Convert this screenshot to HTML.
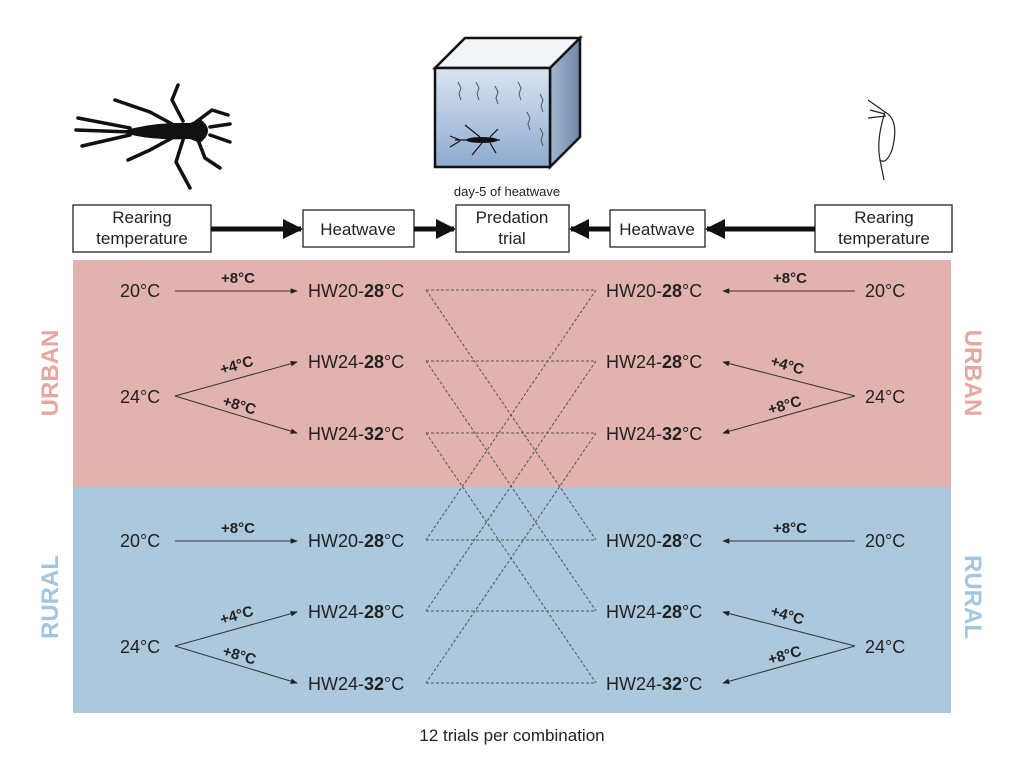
<!DOCTYPE html>
<html><head><meta charset="utf-8"><style>
html,body{margin:0;padding:0;background:#fff;}
svg{display:block;font-family:"Liberation Sans","DejaVu Sans",sans-serif;}
</style></head><body>
<svg width="1024" height="762" viewBox="0 0 1024 762" xmlns="http://www.w3.org/2000/svg">
<defs>
<marker id="a" viewBox="0 0 10 10" refX="9" refY="5" markerWidth="7" markerHeight="7" orient="auto"><path d="M0,1 L10,5 L0,9 z" fill="#222"/></marker>
<marker id="b" viewBox="0 0 10 10" refX="9" refY="5" markerWidth="4" markerHeight="4" orient="auto"><path d="M0,0 L10,5 L0,10 z" fill="#111"/></marker>
<linearGradient id="w" x1="0" y1="0" x2="0" y2="1"><stop offset="0" stop-color="#d8e4f0"/><stop offset="1" stop-color="#8eaad0"/></linearGradient>
<linearGradient id="s" x1="0" y1="0" x2="1" y2="0"><stop offset="0" stop-color="#a6b8d0"/><stop offset="1" stop-color="#6f86a8"/></linearGradient>
</defs>
<rect x="73" y="260" width="878" height="227" fill="#e2b3ae"/>
<rect x="73" y="487" width="878" height="226" fill="#abc8dc"/>

<!-- cube -->
<polygon points="435,68 465,38 580,38 550,68" fill="#f2f4f8" stroke="#111" stroke-width="2.5"/>
<polygon points="550,68 580,38 580,137 550,167" fill="url(#s)" stroke="#111" stroke-width="2.5"/>
<rect x="435" y="68" width="115" height="99" fill="url(#w)" stroke="#111" stroke-width="2.5"/>
<g stroke="#555" stroke-width="1" fill="none">
<path d="M458,82 l3,6 -2,6 2,6"/><path d="M476,82 l3,6 -2,6 2,6"/><path d="M495,86 l3,6 -2,6 2,6"/><path d="M518,82 l3,6 -2,6 2,6"/><path d="M540,94 l3,6 -2,6 2,6"/><path d="M527,112 l3,6 -2,6 2,6"/><path d="M540,128 l3,6 -2,6 2,6"/>
</g>
<g stroke="#111" stroke-width="1.2" fill="none"><path d="M455,140 L500,140"/><path d="M480,137 l-15,-12 M482,143 l-10,12 M490,137 l8,-8 M490,143 l6,10 M460,140 l-10,-4 M460,141 l-10,6"/></g>
<ellipse cx="482" cy="140" rx="16" ry="3" fill="#111"/>
<text x="507" y="196" font-size="13" text-anchor="middle" fill="#222">day-5 of heatwave</text>

<!-- left insect -->
<g stroke="#111" stroke-width="3.5" fill="none" stroke-linecap="round" stroke-linejoin="round">
<path d="M76,130 L130,132 M78,118 L130,128 M82,146 L130,135"/>
<path d="M172,124 L150,112 L115,100 M183,121 L172,100 L178,85 M196,122 L212,110 L228,115"/>
<path d="M172,138 L150,150 L128,160 M183,140 L176,162 L190,188 M198,140 L205,158 L220,168"/>
<path d="M210,127 L230,124 M210,135 L230,142"/>
</g>
<path d="M120,132 Q150,122 190,123 L200,119 Q216,130 200,143 L190,139 Q150,141 120,132 z" fill="#111"/>

<!-- right daphnia -->
<g stroke="#222" stroke-width="1.2" fill="none">
<path d="M868,100 L885,112 M870,110 L885,114 M868,118 L886,116"/>
<path d="M885,112 Q900,120 892,150 Q886,165 880,160 Q876,140 885,112 z"/>
<path d="M880,160 L884,180"/>
</g>

<!-- top boxes -->
<g fill="#fff" stroke="#222" stroke-width="1.3">
<rect x="73" y="205" width="138" height="47"/>
<rect x="303" y="210" width="111" height="37"/>
<rect x="456" y="205" width="113" height="47"/>
<rect x="610" y="210" width="95" height="37"/>
<rect x="815" y="205" width="137" height="47"/>
</g>
<g stroke="#111" stroke-width="5">
<line x1="211" y1="229" x2="301" y2="229" marker-end="url(#b)"/>
<line x1="414" y1="229" x2="454" y2="229" marker-end="url(#b)"/>
<line x1="610" y1="229" x2="571" y2="229" marker-end="url(#b)"/>
<line x1="815" y1="229" x2="707" y2="229" marker-end="url(#b)"/>
</g>
<g font-size="17" text-anchor="middle" fill="#222">
<text x="142" y="223">Rearing</text><text x="142" y="244">temperature</text>
<text x="358" y="235">Heatwave</text>
<text x="512" y="223">Predation</text><text x="512" y="244">trial</text>
<text x="657" y="235">Heatwave</text>
<text x="884" y="223">Rearing</text><text x="884" y="244">temperature</text>
</g>

<!-- side labels -->
<g font-size="24" font-weight="bold" text-anchor="middle">
<text transform="translate(58,373) rotate(-90)" fill="#e6a7a2">URBAN</text>
<text transform="translate(965,373) rotate(90)" fill="#e6a7a2">URBAN</text>
<text transform="translate(58,597) rotate(-90)" fill="#a3c5e0">RURAL</text>
<text transform="translate(965,597) rotate(90)" fill="#a3c5e0">RURAL</text>
</g>

<!-- dashed -->
<g stroke="#555" stroke-width="1" stroke-dasharray="3,2" fill="none">
<line x1="426" y1="290" x2="596" y2="290"/><line x1="426" y1="361" x2="596" y2="361"/><line x1="426" y1="433" x2="596" y2="433"/>
<line x1="426" y1="540" x2="596" y2="540"/><line x1="426" y1="611" x2="596" y2="611"/><line x1="426" y1="683" x2="596" y2="683"/>
<line x1="426" y1="290" x2="596" y2="540"/><line x1="426" y1="361" x2="596" y2="611"/><line x1="426" y1="433" x2="596" y2="683"/>
<line x1="596" y1="290" x2="426" y2="540"/><line x1="596" y1="361" x2="426" y2="611"/><line x1="596" y1="433" x2="426" y2="683"/>
</g>

<!-- arrows -->
<g stroke="#333" stroke-width="1">
<line x1="175" y1="291" x2="297" y2="291" marker-end="url(#a)"/>
<line x1="175" y1="396" x2="297" y2="362" marker-end="url(#a)"/>
<line x1="175" y1="396" x2="297" y2="433" marker-end="url(#a)"/>
<line x1="175" y1="541" x2="297" y2="541" marker-end="url(#a)"/>
<line x1="175" y1="646" x2="297" y2="612" marker-end="url(#a)"/>
<line x1="175" y1="646" x2="297" y2="683" marker-end="url(#a)"/>
<line x1="855" y1="291" x2="723" y2="291" marker-end="url(#a)"/>
<line x1="855" y1="396" x2="723" y2="362" marker-end="url(#a)"/>
<line x1="855" y1="396" x2="723" y2="433" marker-end="url(#a)"/>
<line x1="855" y1="541" x2="723" y2="541" marker-end="url(#a)"/>
<line x1="855" y1="646" x2="723" y2="612" marker-end="url(#a)"/>
<line x1="855" y1="646" x2="723" y2="683" marker-end="url(#a)"/>
</g>
<g font-size="15" font-weight="bold" fill="#222" text-anchor="middle">
<text x="238" y="283">+8°C</text>
<text transform="translate(238,370) rotate(-16)">+4°C</text>
<text transform="translate(238,410) rotate(16)">+8°C</text>
<text x="238" y="533">+8°C</text>
<text transform="translate(238,620) rotate(-16)">+4°C</text>
<text transform="translate(238,660) rotate(16)">+8°C</text>
<text x="790" y="283">+8°C</text>
<text transform="translate(786,370) rotate(16)">+4°C</text>
<text transform="translate(786,410) rotate(-16)">+8°C</text>
<text x="790" y="533">+8°C</text>
<text transform="translate(786,620) rotate(16)">+4°C</text>
<text transform="translate(786,660) rotate(-16)">+8°C</text>
</g>
<g font-size="18" fill="#222">
<text x="120" y="297">20°C</text><text x="120" y="403">24°C</text>
<text x="120" y="547">20°C</text><text x="120" y="653">24°C</text>
<text x="865" y="297">20°C</text><text x="865" y="403">24°C</text>
<text x="865" y="547">20°C</text><text x="865" y="653">24°C</text>
<text x="308" y="297">HW20-<tspan font-weight="bold">28</tspan>°C</text>
<text x="308" y="368">HW24-<tspan font-weight="bold">28</tspan>°C</text>
<text x="308" y="440">HW24-<tspan font-weight="bold">32</tspan>°C</text>
<text x="308" y="547">HW20-<tspan font-weight="bold">28</tspan>°C</text>
<text x="308" y="618">HW24-<tspan font-weight="bold">28</tspan>°C</text>
<text x="308" y="690">HW24-<tspan font-weight="bold">32</tspan>°C</text>
<text x="606" y="297">HW20-<tspan font-weight="bold">28</tspan>°C</text>
<text x="606" y="368">HW24-<tspan font-weight="bold">28</tspan>°C</text>
<text x="606" y="440">HW24-<tspan font-weight="bold">32</tspan>°C</text>
<text x="606" y="547">HW20-<tspan font-weight="bold">28</tspan>°C</text>
<text x="606" y="618">HW24-<tspan font-weight="bold">28</tspan>°C</text>
<text x="606" y="690">HW24-<tspan font-weight="bold">32</tspan>°C</text>
</g>
<text x="512" y="741" font-size="17" text-anchor="middle" fill="#222">12 trials per combination</text>
</svg>
</body></html>
